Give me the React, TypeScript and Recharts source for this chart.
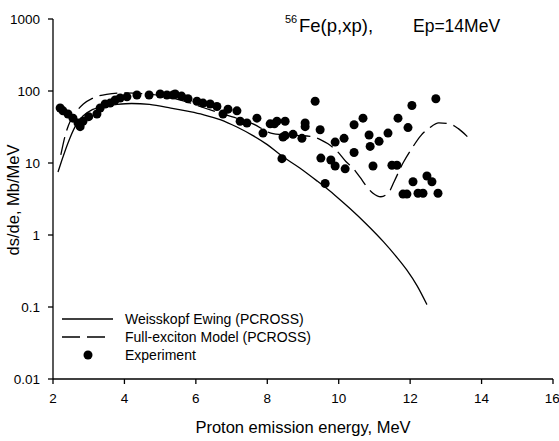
import * as React from 'react';
import {ComposedChart, Customized, Legend, Line, Scatter, XAxis, YAxis} from 'recharts';

type Pt = {x: number; y: number};

// Weisskopf Ewing (PCROSS)
const weisskopfX = [2.14, 2.25, 2.42, 2.62, 2.84, 3.1, 3.4, 3.8, 4.2, 4.7, 5.3, 5.8, 6.2, 6.7, 7.15, 7.6, 8.0, 8.4, 8.9, 9.4, 9.9, 10.3, 10.8, 11.25, 11.6, 11.9, 12.2, 12.47];
const weisskopfY = [7.5, 11, 19, 32, 45, 55, 61, 65, 67, 65, 58, 52, 47, 39.8, 31.6, 24, 18, 12.6, 8.6, 5.6, 3.55, 2.37, 1.38, 0.81, 0.51, 0.33, 0.195, 0.108];

// Full-exciton Model (PCROSS)
const excitonX = [2.22, 2.34, 2.5, 2.67, 2.85, 3.1, 3.5, 4.0, 4.5, 5.2, 5.7, 6.2, 6.7, 7.2, 7.6, 8.1, 8.5, 8.9, 9.2, 9.5, 9.7, 9.95, 10.2, 10.4, 10.6, 10.8, 10.96, 11.18, 11.4, 11.55, 11.8, 12.05, 12.3, 12.55, 12.8, 13.1, 13.35, 13.65];
const excitonY = [13, 24, 40, 53, 66, 79, 90, 94, 92, 83, 72, 59, 49, 41, 35, 26, 24.5, 24, 23.5, 21, 18.5, 14.7, 10.5, 8.5, 6.3, 4.6, 3.8, 3.4, 3.9, 5.5, 10, 16, 24, 31, 36, 35, 30, 22];

// Experiment
const expX = [2.2, 2.28, 2.42, 2.56, 2.7, 2.76, 2.84, 3.0, 3.23, 3.32, 3.46, 3.6, 3.74, 3.88, 4.07, 4.35, 4.69, 5.0, 5.19, 5.36, 5.42, 5.6, 5.78, 6.03, 6.2, 6.4, 6.59, 6.76, 6.9, 7.15, 7.24, 7.43, 7.71, 7.88, 8.08, 8.2, 8.27, 8.5, 8.5, 8.41, 8.72, 8.44, 8.97, 9.06, 9.06, 9.34, 9.48, 9.5, 9.62, 9.78, 9.9, 9.9, 10.15, 10.18, 10.43, 10.43, 10.68, 10.85, 10.88, 10.96, 11.13, 11.38, 11.49, 11.63, 11.66, 11.8, 11.91, 11.94, 12.05, 12.08, 12.22, 12.36, 12.47, 12.61, 12.72, 12.78];
const expY = [58, 53, 48, 42, 36, 32, 38, 44, 48, 58, 66, 68, 75, 80, 83, 88, 88, 91, 88, 88, 91, 85, 78, 72, 68, 66, 61, 48, 56, 53, 38, 36, 42, 26, 35, 35, 38, 38, 24, 11.5, 25, 23, 22, 32, 36, 72, 29, 11.7, 5.2, 11, 9.1, 19.5, 22, 8.3, 14, 34, 42, 24.5, 17, 9.1, 20, 26, 9.3, 9.3, 42, 3.7, 3.7, 31, 63, 5.5, 3.8, 3.8, 6.6, 5.5, 78, 3.8];

const xTicks = [2, 4, 6, 8, 10, 12, 14, 16];
const yTicks = [0.01, 0.1, 1, 10, 100, 1000];
const yTickLabels = ['0.01', '0.1', '1', '10', '100', '1000'];

const zip = (xs: number[], ys: number[]): Pt[] => xs.map((x, i) => ({x, y: ys[i]}));

const font = '"Liberation Sans", Arial, sans-serif';

const renderLegend = () => (
    <svg width={260} height={60} style={{fontFamily: font, display: 'block'}}>
        <line x1={7} x2={58} y1={11} y2={11} stroke="#000" strokeWidth={1.3} />
        <text x={70} y={11} dy="0.35em" fontSize={14}>Weisskopf Ewing (PCROSS)</text>
        <line x1={7} x2={51} y1={29} y2={29} stroke="#000" strokeWidth={1.3} strokeDasharray="18 7" />
        <text x={70} y={29} dy="0.35em" fontSize={14}>Full-exciton Model (PCROSS)</text>
        <circle cx={33} cy={47} r={4.5} fill="#000" />
        <text x={70} y={47} dy="0.35em" fontSize={14}>Experiment</text>
    </svg>
);

const Labels = () => (
    <g style={{fontFamily: font}}>
        <text x={285} y={23} fontSize={11}>56</text>
        <text x={299} y={32} fontSize={18.5}>Fe(p,xp),</text>
        <text x={413} y={32} fontSize={17.5}>Ep=14MeV</text>
        <text x={303} y={433} fontSize={16.5} textAnchor="middle">Proton emission energy, MeV</text>
        <text x={19} y={200} fontSize={16.5} textAnchor="middle" transform="rotate(-90 19 200)">ds/de, Mb/MeV</text>
    </g>
);

export default function App() {
    const tickStyle = {fill: '#000', fontSize: 13.5, fontFamily: font};
    return (
        <div style={{position: 'absolute', left: 0, top: 0, background: '#fff'}}>
            <ComposedChart width={559} height={441} margin={{top: 19, right: 6, bottom: 0, left: 0}}>
                <XAxis
                    type="number"
                    dataKey="x"
                    domain={[2, 16]}
                    ticks={xTicks}
                    allowDataOverflow
                    height={62}
                    tickSize={5}
                    tickMargin={9}
                    tick={tickStyle}
                    axisLine={{stroke: '#000', strokeWidth: 1.3}}
                    tickLine={{stroke: '#000', strokeWidth: 1.3}}
                />
                <YAxis
                    type="number"
                    scale="log"
                    domain={[0.01, 1000]}
                    ticks={yTicks}
                    allowDataOverflow
                    width={53}
                    tickSize={5}
                    tickMargin={8}
                    tick={tickStyle}
                    tickFormatter={(v: number) => yTickLabels[yTicks.indexOf(v)] ?? String(v)}
                    axisLine={{stroke: '#000', strokeWidth: 1.3}}
                    tickLine={{stroke: '#000', strokeWidth: 1.3}}
                />
                <Legend
                    layout="horizontal"
                    verticalAlign="middle"
                    align="center"
                    content={renderLegend}
                    wrapperStyle={{left: 55, top: 308, width: 260, height: 60}}
                />
                <Line
                    data={zip(weisskopfX, weisskopfY)}
                    dataKey="y"
                    type="monotone"
                    stroke="#000"
                    strokeWidth={1.3}
                    dot={false}
                    isAnimationActive={false}
                />
                <Line
                    data={zip(excitonX, excitonY)}
                    dataKey="y"
                    type="monotone"
                    stroke="#000"
                    strokeWidth={1.3}
                    strokeDasharray="18 7"
                    dot={false}
                    isAnimationActive={false}
                />
                <Scatter
                    data={zip(expX, expY)}
                    dataKey="y"
                    fill="#000"
                    shape={(p: any) => <circle cx={p.cx} cy={p.cy} r={4.5} fill="#000" />}
                    isAnimationActive={false}
                />
                <Customized component={Labels} />
            </ComposedChart>
        </div>
    );
}
